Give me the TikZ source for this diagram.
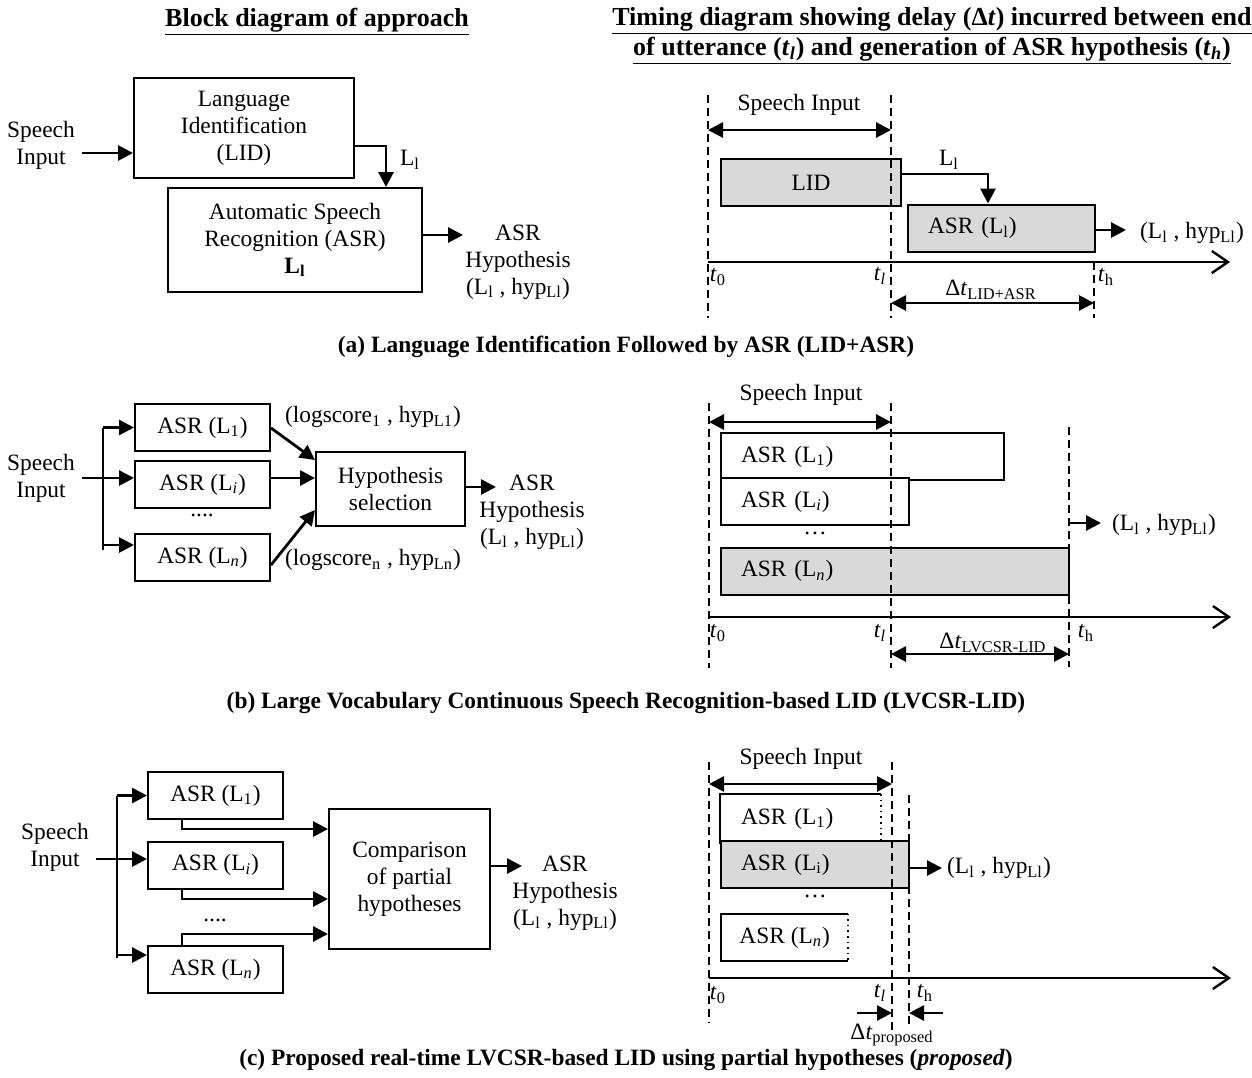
\documentclass[tikz,border=0pt]{standalone}
\usepackage{fontspec}
\setmainfont{Liberation Serif}
\usetikzlibrary{arrows.meta}
\definecolor{boxgray}{RGB}{217,217,217}
\newcommand{\lsub}[1]{\textsubscript{#1}}

\begin{document}
\begin{tikzpicture}[x=0.5pt, y=-0.5pt,
  font=\fontsize{11.7}{13.5}\selectfont,
  box/.style={draw, line width=1pt, align=center, inner sep=0pt},
  conn/.style={line width=1.4pt, -{Triangle[length=7.5pt,width=7.5pt]}},
  dconn/.style={line width=1.4pt, {Triangle[length=7.5pt,width=7.5pt]}-{Triangle[length=7.5pt,width=7.5pt]}},
  wire/.style={line width=1.4pt},
  tbox/.style={draw, line width=1pt, fill=white, align=left, inner xsep=10pt, inner ysep=0pt, minimum height=23.5pt, text width=#1},
  dashline/.style={dash pattern=on 4pt off 2.5pt, line width=0.75pt},
  axis/.style={line width=1.2pt, -{Straight Barb[length=8pt,width=11pt]}},
  title/.style={font=\fontsize{13}{14}\selectfont\bfseries, align=center},
  caption/.style={font=\fontsize{11.7}{13.5}\selectfont\bfseries}
]
\useasboundingbox (0,0) rectangle (1252,1077);

% Titles
\node[title] (ttlL) at (317,22) {\underline{Block diagram of approach}};
\node[title] (ttlR) at (932,36) {\underline{Timing diagram showing delay (Δ\textit{t}) incurred between end}\\
  \underline{of utterance (\textit{t}\lsub{\textit{l}}) and generation of ASR hypothesis (\textit{t}\lsub{\textit{h}})}};

% (a) block diagram
\node[align=center] (inA) at (41,145) {Speech\\Input};
\node[box, minimum width=110pt, minimum height=50pt] (lidA) at (244,128) {Language\\Identification\\(LID)};
\node[box, minimum width=127pt, minimum height=52pt] (asrA) at (295,240) {Automatic Speech\\Recognition (ASR)\\\textbf{L\lsub{l}}};
\node (llA) at (410,160) {L\lsub{l}};
\node[align=center] (outA) at (518,262) {ASR\\Hypothesis\\(L\lsub{l} , hyp\lsub{Ll})};
\coordinate (endA) at (463,235);
\draw[conn] (inA.east |- 0,153) -- (lidA.west |- 0,153);
\draw[conn] (lidA.east |- 0,146) -| (asrA.north -| 386,0);
\draw[conn] (asrA.east |- endA) -- (endA);

% (a) timing diagram
\coordinate (t0A) at (708,262);
\coordinate (tlA) at (891,262);
\coordinate (thA) at (1094,262);
\node (siA) at (799,105) {Speech Input};
\draw[dconn] (t0A |- 0,130) -- (tlA |- 0,130);
\node[tbox=70pt, fill=boxgray, align=center] (lidT) at (811,182.5) {LID};
\node[tbox=73.5pt, fill=boxgray] (asrT) at (1001.5,228) {ASR (L\lsub{l})};
\node (llT) at (949,160) {L\lsub{l}};
\draw[conn] (lidT.east |- 0,174) -| (asrT.north -| 988,0);
\coordinate (endT) at (1126,230);
\draw[conn] (asrT.east |- endT) -- (endT);
\node (hypT) at (1192,233) {(L\lsub{l} , hyp\lsub{Ll})};
\draw[axis] (t0A) -- (1230,262);
\node (t0lA) at (718,277) {\textit{t}\lsub{0}};
\node (tllA) at (880,276) {\textit{t}\lsub{\textit{l}}};
\node (thlA) at (1106,277) {\textit{t}\lsub{h}};
\draw[dconn] (tlA |- 0,303) -- (thA |- 0,303);
\node (dtA) at (991,290) {Δ\textit{t}\lsub{LID+ASR}};
\draw[dashline] (t0A |- 0,95) -- (t0A |- 0,318);
\draw[dashline] (tlA |- 0,95) -- (tlA |- 0,318);
\draw[dashline] (thA) -- (thA |- 0,318);

\node[caption] (capA) at (626,347) {(a) Language Identification Followed by ASR (LID+ASR)};

% (b) block diagram
\node[align=center] (inB) at (41,478) {Speech\\Input};
\node[box, minimum width=67.5pt, minimum height=23.5pt] (b1) at (202.5,427.5) {ASR (L\lsub{1})};
\node[box, minimum width=67.5pt, minimum height=23.5pt] (b2) at (202.5,484.5) {ASR (L\lsub{\textit{i}})};
\node[box, minimum width=67.5pt, minimum height=23.5pt] (b3) at (202.5,557.5) {ASR (L\lsub{\textit{n}})};
\node (dotsB) at (202,515) {....};
\node[box, minimum width=74.5pt, minimum height=37pt] (hypB) at (390.5,489) {Hypothesis\\selection};
\node (lsB1) at (373,417) {(logscore\lsub{1} , hyp\lsub{L1})};
\node (lsBn) at (373,560) {(logscore\lsub{n} , hyp\lsub{Ln})};
\node[align=center] (outB) at (532,512) {ASR\\Hypothesis\\(L\lsub{l} , hyp\lsub{Ll})};
\coordinate (trB) at (103,478);
\coordinate (endB) at (496,487);
\draw[wire] (trB |- b1) -- (trB |- 0,550);
\draw[conn] (trB |- b1) -- (b1);
\draw[conn] (inB.east |- trB) -- (b2.west |- trB);
\draw[conn] (trB |- 0,545) -- (b3.west |- 0,545);
\draw[conn] (b1.east |- 0,428) -- (hypB.west |- 0,460);
\draw[conn] (b2.east |- trB) -- (hypB.west |- trB);
\draw[conn] (b3.east |- 0,565) -- (hypB.west |- 0,510);
\draw[conn] (hypB.east |- endB) -- (endB);

% (b) timing diagram
\coordinate (t0B) at (709,617);
\coordinate (tlB) at (891,617);
\coordinate (thB) at (1069,617);
\node (siB) at (801,395) {Speech Input};
\draw[dconn] (t0B |- 0,422) -- (tlB |- 0,422);
\node[tbox=121.5pt] (r1) at (862.5,456.5) {ASR (L\lsub{1})};
\node[tbox=74pt] (r2) at (815,501.5) {ASR (L\lsub{\textit{i}})};
\node (dotsR) at (815,533) {\ldots};
\node[tbox=154pt, fill=boxgray] (r3) at (895,571) {ASR (L\lsub{\textit{n}})};
\coordinate (endR) at (1101,523);
\draw[conn] (thB |- endR) -- (endR);
\node (hypR) at (1164,525) {(L\lsub{l} , hyp\lsub{Ll})};
\draw[axis] (t0B) -- (1231,617);
\node (t0lB) at (718,633) {\textit{t}\lsub{0}};
\node (tllB) at (880,633) {\textit{t}\lsub{\textit{l}}};
\node (thlB) at (1086,633) {\textit{t}\lsub{h}};
\draw[dconn] (tlB |- 0,654) -- (thB |- 0,654);
\node (dtB) at (993,643) {Δ\textit{t}\lsub{LVCSR-LID}};
\draw[dashline] (t0B |- 0,403) -- (t0B |- 0,668);
\draw[dashline] (tlB |- 0,403) -- (tlB |- 0,668);
\draw[dashline] (thB |- 0,427) -- (thB |- 0,667);

\node[caption] (capB) at (626,703) {(b) Large Vocabulary Continuous Speech Recognition-based LID (LVCSR-LID)};

% (c) block diagram
\node[align=center] (inC) at (55,847) {Speech\\Input};
\node[box, minimum width=67.5pt, minimum height=23.5pt] (c1) at (215.5,795.5) {ASR (L\lsub{1})};
\node[box, minimum width=67.5pt, minimum height=23.5pt] (c2) at (215.5,865) {ASR (L\lsub{\textit{i}})};
\node[box, minimum width=67.5pt, minimum height=23.5pt] (c3) at (215.5,969.5) {ASR (L\lsub{\textit{n}})};
\node (dotsC) at (215,920) {....};
\node[box, minimum width=80.5pt, minimum height=70pt] (cmpC) at (409.5,879) {Comparison\\of partial\\hypotheses};
\node[align=center] (outC) at (565,893) {ASR\\Hypothesis\\(L\lsub{l} , hyp\lsub{Ll})};
\coordinate (trC) at (117,859);
\coordinate (endC) at (522,866);
\draw[wire] (trC |- c1) -- (trC |- 0,958);
\draw[conn] (trC |- c1) -- (c1);
\draw[conn] (inC.east |- trC) -- (c2.west |- trC);
\draw[conn] (trC |- 0,955) -- (c3.west |- 0,955);
\draw[conn] (c1.south -| 182,0) |- (cmpC.west |- 0,829);
\draw[conn] (c2.south -| 182,0) |- (cmpC.west |- 0,899);
\draw[conn] (c3.north -| 182,0) |- (cmpC.west |- 0,934);
\draw[conn] (cmpC.east |- endC) -- (endC);

% (c) timing diagram
\coordinate (t0C) at (709,978);
\coordinate (tlC) at (892,978);
\coordinate (thC) at (909,978);
\node (siC) at (801,759) {Speech Input};
\draw[dconn] (t0C |- 0,784) -- (tlC |- 0,784);
\node[tbox=59.5pt, draw=none] (s1) at (800.5,818.5) {ASR (L\lsub{1})};
\draw[line width=1pt] (s1.north east) -- (s1.north west) -- (s1.south west) -- (s1.south east);
\draw[dotted, line width=0.8pt] (s1.north east) -- (s1.south east);
\node[tbox=74pt, fill=boxgray] (s2) at (815,864.5) {ASR (L\lsub{i})};
\node (dotsS) at (815,896) {\ldots};
\node[anchor=west, inner xsep=9pt, inner ysep=0pt, minimum height=23.5pt] (s3) at (721,937.5) {ASR (L\lsub{\textit{n}})};
\draw[line width=1pt] (s3.north east) -- (s3.north west) -- (s3.south west) -- (s3.south east);
\draw[dotted, line width=0.8pt] (s3.north east) -- (s3.south east);
\coordinate (endS) at (942,868);
\draw[conn] (s2.east |- endS) -- (endS);
\node (hypS) at (999,868) {(L\lsub{l} , hyp\lsub{Ll})};
\draw[axis] (t0C) -- (1231,978);
\node (t0lC) at (718,995) {\textit{t}\lsub{0}};
\node (tllC) at (880,993) {\textit{t}\lsub{\textit{l}}};
\node (thlC) at (925,993) {\textit{t}\lsub{h}};
\coordinate (dlC) at (857,1013);
\coordinate (drC) at (943,1013);
\draw[conn] (dlC) -- (tlC |- dlC);
\draw[conn] (drC) -- (thC |- drC);
\node (dtC) at (892,1035) {Δ\textit{t}\lsub{proposed}};
\draw[dashline] (t0C |- 0,762) -- (t0C |- 0,1023);
\draw[dashline] (tlC |- 0,762) -- (tlC |- 0,1030);
\draw[dashline] (thC |- 0,795) -- (thC |- 0,1028);

\node[caption] (capC) at (626,1060) {(c) Proposed real-time LVCSR-based LID using partial hypotheses (\textit{proposed})};

\end{tikzpicture}
\end{document}
